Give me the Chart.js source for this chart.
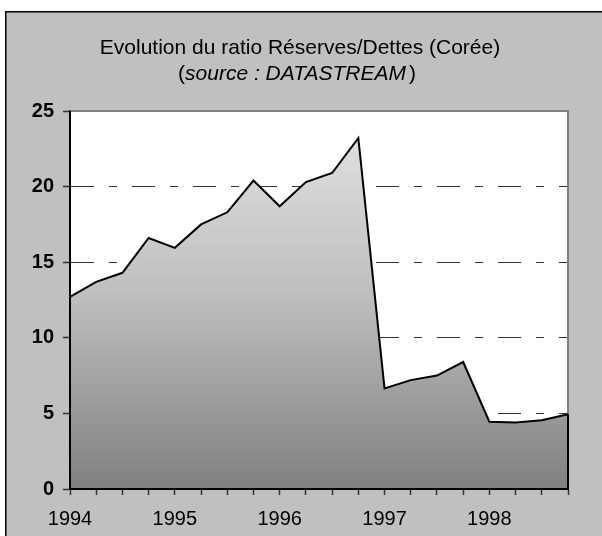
<!DOCTYPE html>
<html>
<head>
<meta charset="utf-8">
<script src="https://cdn.jsdelivr.net/npm/chart.js@4/dist/chart.umd.min.js"></script>
<style>
  html, body { margin: 0; padding: 0; background: #fff; }
  canvas { display: block; }
</style>
</head>
<body>
<canvas id="c" width="602" height="536"></canvas>
<script>
// Quarterly observations, 1994 T1 to 1998 T4
const quarters = [
  '1994 T1', '1994 T2', '1994 T3', '1994 T4',
  '1995 T1', '1995 T2', '1995 T3', '1995 T4',
  '1996 T1', '1996 T2', '1996 T3', '1996 T4',
  '1997 T1', '1997 T2', '1997 T3', '1997 T4',
  '1998 T1', '1998 T2', '1998 T3', '1998 T4'
];
// Reserves / debt ratio (Korea)
const ratio = [
  12.7, 13.7, 14.3, 16.6,
  15.95, 17.5, 18.3, 20.4,
  18.7, 20.3, 20.9, 23.2,
  6.65, 7.2, 7.5, 8.4,
  4.45, 4.4, 4.55, 4.95
];
// One label per year, placed on each first quarter
const yearLabels = ['1994', '1995', '1996', '1997', '1998'];
const yMin = 0, yMax = 25, yStep = 5;

const titleText = 'Evolution du ratio Réserves/Dettes (Corée)';
const sourceText = 'source : DATASTREAM';

const FONT = '"Liberation Sans", Arial, Helvetica, sans-serif';

// Page frame, grey panel and white plot area
const framePlugin = {
  id: 'frame',
  beforeDraw(chart) {
    const { ctx, chartArea: a } = chart;
    ctx.save();
    ctx.fillStyle = '#ffffff';
    ctx.fillRect(0, 0, chart.width, chart.height);
    ctx.fillStyle = '#c0c0c0';
    ctx.fillRect(5, 12, chart.width, chart.height);
    ctx.strokeStyle = '#000000';
    ctx.lineWidth = 1.5;
    ctx.strokeRect(5.75, 11.75, chart.width + 10, chart.height + 10);
    ctx.fillStyle = '#ffffff';
    ctx.fillRect(a.left, a.top, a.right - a.left, a.bottom - a.top);
    ctx.restore();
  },
  beforeDatasetsDraw(chart) {
    const { ctx, chartArea: a } = chart;
    ctx.save();
    ctx.strokeStyle = '#808080';
    ctx.lineWidth = 2;
    ctx.beginPath();
    ctx.moveTo(a.left, a.top);
    ctx.lineTo(a.right, a.top);
    ctx.lineTo(a.right, a.bottom);
    ctx.stroke();
    ctx.restore();
  },
  afterDatasetsDraw(chart) {
    const { ctx, chartArea: a } = chart;
    const xs = chart.scales.x, ys = chart.scales.y;
    const last = ratio.length - 1;
    const lx = xs.getPixelForValue(last);
    const ly = ys.getPixelForValue(ratio[last]);
    ctx.save();
    ctx.strokeStyle = '#000000';
    ctx.lineWidth = 2;
    // right edge of the filled area
    ctx.beginPath();
    ctx.moveTo(lx, ly);
    ctx.lineTo(lx, ys.getPixelForValue(yMin));
    ctx.stroke();
    // axis lines on top of the fill
    ctx.beginPath();
    ctx.moveTo(a.left, a.top);
    ctx.lineTo(a.left, a.bottom);
    ctx.lineTo(a.right, a.bottom);
    ctx.stroke();
    ctx.restore();
  }
};

// Two-line heading, second line with an italic source
const headingPlugin = {
  id: 'heading',
  afterDraw(chart) {
    const { ctx } = chart;
    const cx = 300;
    ctx.save();
    ctx.fillStyle = '#000000';
    ctx.textBaseline = 'middle';
    ctx.font = '21px ' + FONT;
    ctx.textAlign = 'center';
    ctx.fillText(titleText, cx, 48);

    const regular = '21px ' + FONT;
    const italic = 'italic 21px ' + FONT;
    const gap = 3;
    ctx.font = regular;
    const wOpen = ctx.measureText('(').width;
    const wClose = ctx.measureText(')').width;
    ctx.font = italic;
    const wSrc = ctx.measureText(sourceText).width;
    let x = 297 - (wOpen + wSrc + gap + wClose) / 2;
    ctx.textAlign = 'left';
    ctx.font = regular;
    ctx.fillText('(', x, 74);
    x += wOpen;
    ctx.font = italic;
    ctx.fillText(sourceText, x, 74);
    x += wSrc + gap;
    ctx.font = regular;
    ctx.fillText(')', x, 74);
    ctx.restore();
  }
};

new Chart(document.getElementById('c'), {
  type: 'line',
  data: {
    labels: quarters,
    datasets: [{
      data: ratio,
      borderColor: '#000000',
      borderWidth: 2,
      pointRadius: 0,
      pointHoverRadius: 0,
      tension: 0,
      fill: 'origin',
      backgroundColor(context) {
        const { chart } = context;
        const a = chart.chartArea;
        if (!a) return '#bbbbbb';
        const g = chart.ctx.createLinearGradient(0, a.top, 0, a.bottom);
        g.addColorStop(0, '#e4e4e4');
        g.addColorStop(0.5, '#bdbdbd');
        g.addColorStop(1, '#808080');
        return g;
      }
    }]
  },
  options: {
    responsive: false,
    animation: false,
    events: [],
    layout: {
      autoPadding: false,
      padding: { top: 111, right: 34, left: 0, bottom: 0 }
    },
    plugins: {
      legend: { display: false },
      title: { display: false },
      tooltip: { enabled: false }
    },
    scales: {
      x: {
        type: 'category',
        offset: false,
        afterFit(scale) { scale.height = 47; },
        grid: {
          drawOnChartArea: false,
          drawTicks: true,
          tickLength: 6,
          tickColor: '#333333',
          tickWidth: 1.5
        },
        border: { display: true, color: '#000000', width: 2 },
        ticks: {
          autoSkip: false,
          maxRotation: 0,
          minRotation: 0,
          padding: 12,
          color: '#000000',
          font: { family: FONT, size: 20 },
          callback(value, index) {
            return index % 4 === 0 ? yearLabels[index / 4] : '';
          }
        }
      },
      y: {
        min: yMin,
        max: yMax,
        afterFit(scale) { scale.width = 70; },
        grid: {
          color(ctx) {
            const v = ctx.tick && ctx.tick.value;
            return (v === yMin || v === yMax) ? 'rgba(0,0,0,0)' : '#333333';
          },
          lineWidth: 1,
          drawTicks: true,
          tickLength: 7,
          tickColor: '#333333',
          tickWidth: 1.5
        },
        border: { display: true, color: '#000000', width: 2, dash: [23, 15, 8, 15] },
        ticks: {
          stepSize: yStep,
          padding: 9,
          color: '#000000',
          font: { family: FONT, size: 20, weight: 'bold' }
        }
      }
    }
  },
  plugins: [framePlugin, headingPlugin]
});
</script>
</body>
</html>
